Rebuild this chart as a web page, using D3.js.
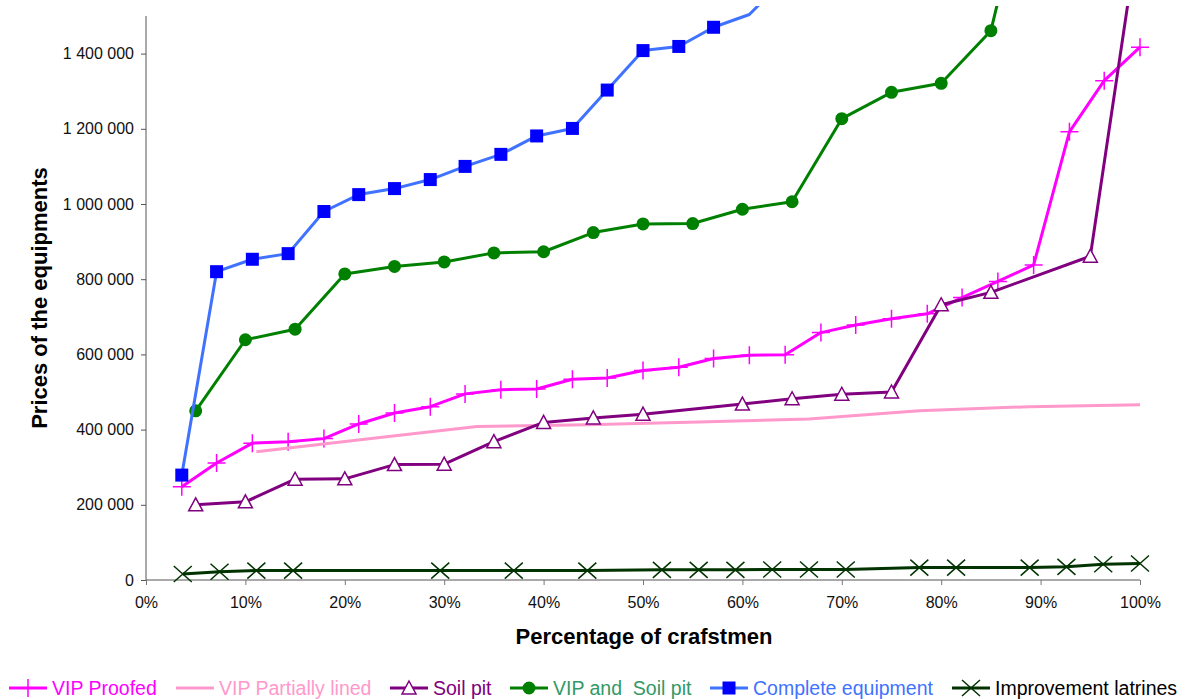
<!DOCTYPE html>
<html>
<head>
<meta charset="utf-8">
<script src="https://cdn.jsdelivr.net/npm/d3@7"></script>
<style>
    body { margin: 0; background: #fff; }
    text { font-family: "Liberation Sans", Arial, sans-serif; }
</style>
</head>
<body>
<div id="canvas"></div>
<script>
"use strict"

let svgWidth = 1187
let svgHeight = 699

let margin = {
    top: 16,
    right: 47,
    bottom: 119,
    left: 146
}

/* Data: x = percentage of crafstmen, y = price */
let proofedX = [3.6, 7.1, 10.7, 14.3, 17.9, 21.4, 25, 28.6, 32.1, 35.7, 39.3, 42.9, 46.4, 50,
    53.6, 57.1, 60.7, 64.3, 67.9, 71.4, 75, 78.6, 82.1, 85.7, 89.3, 92.9, 96.4, 100]
let proofedY = [248000, 311000, 364000, 368000, 376000, 415000, 444000, 461000, 495000, 506000,
    508000, 534000, 537000, 557000, 566000, 589000, 598000, 599000, 658000, 678000, 695000,
    708000, 751000, 794000, 838000, 1192000, 1328000, 1417000]

let linedX = [11.1, 22.2, 33.3, 44.4, 55.6, 66.7, 77.8, 88.9, 100]
let linedY = [341000, 375000, 408000, 413000, 420000, 428000, 450000, 461000, 466000]

let soilX = [5, 10, 15, 20, 25, 30, 35, 40, 45, 50, 60, 65, 70, 75, 80, 85, 95, 100]
let soilY = [200000, 208000, 268000, 269000, 307000, 308000, 368000, 419000, 431000, 441000,
    468000, 482000, 494000, 500000, 732000, 765000, 861000, 1750000]

let vipSoilX = [5, 10, 15, 20, 25, 30, 35, 40, 45, 50, 55, 60, 65, 70, 75, 80, 85, 90]
let vipSoilY = [450000, 639000, 667000, 814000, 834000, 846000, 870000, 873000, 924000, 947000,
    948000, 986000, 1006000, 1227000, 1297000, 1321000, 1461000, 2010000]

let completeX = [3.6, 7.1, 10.7, 14.3, 17.9, 21.4, 25, 28.6, 32.1, 35.7, 39.3, 42.9, 46.4, 50,
    53.6, 57.1, 60.7, 64.3]
let completeY = [279000, 820000, 853000, 868000, 980000, 1025000, 1041000, 1065000, 1100000,
    1132000, 1181000, 1201000, 1303000, 1408000, 1419000, 1470000, 1504000, 1600000]

let latrinesX = [3.7, 7.4, 11.1, 14.8, 29.6, 37.0, 44.4, 51.9, 55.6, 59.3, 63.0, 66.7, 70.4,
    77.8, 81.5, 88.9, 92.6, 96.3, 100]
let latrinesY = [16000, 22000, 25000, 25000, 25000, 25000, 25000, 27000, 27000, 27000, 28000,
    28000, 28000, 33000, 33000, 33000, 35000, 42000, 44000]

let yTicks = [0, 200000, 400000, 600000, 800000, 1000000, 1200000, 1400000]
let xTicks = [0, 10, 20, 30, 40, 50, 60, 70, 80, 90, 100]

let seriesNames = ["VIP Proofed", "VIP Partially lined", "Soil pit", "VIP and  Soil pit",
    "Complete equipment", "Improvement latrines"]

/* series styling: line colour, marker type, legend text colour */
let seriesList = [
    { name: seriesNames[0], xs: proofedX, ys: proofedY, line: "#ff00ff", width: 3, marker: "plus", mColor: "#ff00ff", text: "#ff00ff" },
    { name: seriesNames[1], xs: linedX, ys: linedY, line: "#ff99cc", width: 3, marker: "none", mColor: "#ff99cc", text: "#ff99cc" },
    { name: seriesNames[2], xs: soilX, ys: soilY, line: "#800080", width: 3, marker: "triangle", mColor: "#800080", text: "#800080" },
    { name: seriesNames[3], xs: vipSoilX, ys: vipSoilY, line: "#008000", width: 3, marker: "circle", mColor: "#008000", text: "#339966" },
    { name: seriesNames[4], xs: completeX, ys: completeY, line: "#3f72ff", width: 3, marker: "square", mColor: "#0000ff", text: "#3f72ff" },
    { name: seriesNames[5], xs: latrinesX, ys: latrinesY, line: "#003300", width: 3, marker: "cross", mColor: "#003300", text: "#000000" }
]

let legendX = [9, 176, 390, 510, 710, 952]

let svg = d3.select("#canvas")
    .append("svg")
    .attr("width", svgWidth)
    .attr("height", svgHeight)

let width = svgWidth - margin.left - margin.right
let height = svgHeight - margin.top - margin.bottom

let xScale = d3.scaleLinear().domain([0, 100]).range([0, width])
let yScale = d3.scaleLinear().domain([0, 1500000]).range([height, 0])

let chartGroup = svg.append("g")
    .attr("transform", `translate(${margin.left},${margin.top})`)

// clip lines that run off the top of the chart
svg.append("clipPath")
    .attr("id", "plotClip")
    .append("rect")
    .attr("x", -10)
    .attr("y", -10)
    .attr("width", width + 20)
    .attr("height", height + 20)

let locale = d3.formatLocale({ decimal: ".", thousands: " ", grouping: [3], currency: ["", ""] })
let fmt = locale.format(",")

// Y axis
let yAxis = d3.axisLeft(yScale)
    .tickValues(yTicks)
    .tickFormat(fmt)
    .tickSize(5)
    .tickPadding(7)

let yG = chartGroup.append("g").call(yAxis)
yG.select(".domain").attr("stroke", "#555").attr("d", `M0,0V${height}`)
yG.selectAll(".tick line").attr("stroke", "#555")
yG.selectAll("text")
    .attr("fill", "#111")
    .style("font-size", "16px")
    .style("font-family", "'Liberation Sans', Arial, sans-serif")

// X axis
let xAxis = d3.axisBottom(xScale)
    .tickValues(xTicks)
    .tickFormat(d => d + "%")
    .tickSize(5)
    .tickPadding(12)

let xG = chartGroup.append("g")
    .attr("transform", `translate(0,${height})`)
    .call(xAxis)
xG.select(".domain").attr("stroke", "#555").attr("d", `M0,0H${width}`)
xG.selectAll(".tick line").attr("stroke", "#777")
xG.selectAll("text")
    .attr("fill", "#111")
    .style("font-size", "16px")
    .style("font-family", "'Liberation Sans', Arial, sans-serif")

// Axis titles
chartGroup.append("text")
    .attr("transform", "rotate(-90)")
    .attr("x", -(298 - margin.top))
    .attr("y", 47 - margin.left)
    .style("text-anchor", "middle")
    .style("font-weight", "bold")
    .style("font-size", "22px")
    .text("Prices of the equipments")

chartGroup.append("text")
    .attr("x", 644 - margin.left)
    .attr("y", 644 - margin.top)
    .style("text-anchor", "middle")
    .style("font-weight", "bold")
    .style("font-size", "22px")
    .text("Percentage of crafstmen")

/* marker drawing, returns a path string centred at (cx, cy) */
function markerPath(type, cx, cy) {
    let p = d3.path()
    if (type === "plus") {
        p.moveTo(cx - 9, cy); p.lineTo(cx + 9, cy)
        p.moveTo(cx, cy - 9); p.lineTo(cx, cy + 9)
    } else if (type === "cross") {
        p.moveTo(cx - 9, cy - 8); p.lineTo(cx + 9, cy + 8)
        p.moveTo(cx - 9, cy + 8); p.lineTo(cx + 9, cy - 8)
    } else if (type === "triangle") {
        p.moveTo(cx, cy - 7); p.lineTo(cx + 7, cy + 6); p.lineTo(cx - 7, cy + 6); p.closePath()
    } else if (type === "square") {
        p.rect(cx - 6.5, cy - 6.5, 13, 13)
    } else if (type === "circle") {
        p.arc(cx, cy, 6.5, 0, Math.PI * 2)
    }
    return p.toString()
}

function styleMarker(sel, s) {
    if (s.marker === "plus" || s.marker === "cross") {
        sel.attr("fill", "none").attr("stroke", s.mColor).attr("stroke-width", 1.5)
    } else if (s.marker === "triangle") {
        sel.attr("fill", "#fff").attr("stroke", s.mColor).attr("stroke-width", 1.5)
    } else {
        sel.attr("fill", s.mColor).attr("stroke", "none")
    }
}

let plot = chartGroup.append("g")
    .attr("clip-path", "url(#plotClip)")

let lineGen = d3.line()
    .x(d => xScale(d[0]))
    .y(d => yScale(d[1]))

for (let i = 0; i < seriesList.length; i++) {
    let s = seriesList[i]
    let pts = s.xs.map((x, k) => [x, s.ys[k]])

    plot.append("path")
        .attr("d", lineGen(pts))
        .attr("fill", "none")
        .attr("stroke", s.line)
        .attr("stroke-width", s.width)
        .attr("stroke-linejoin", "round")

    if (s.marker !== "none") {
        // Excel hides markers above the axis maximum
        let shown = pts.filter(d => d[1] <= 1500000)
        plot.selectAll("path.m" + i)
            .data(shown)
            .join("path")
            .attr("class", "m" + i)
            .attr("d", d => markerPath(s.marker, xScale(d[0]), yScale(d[1])))
            .call(styleMarker, s)
    }
}

// Legend
let legendY = 688
for (let i = 0; i < seriesList.length; i++) {
    let s = seriesList[i]
    let x0 = legendX[i]
    svg.append("line")
        .attr("x1", x0).attr("x2", x0 + 38)
        .attr("y1", legendY).attr("y2", legendY)
        .attr("stroke", s.line)
        .attr("stroke-width", s.width)
    if (s.marker !== "none") {
        svg.append("path")
            .attr("d", markerPath(s.marker, x0 + 19, legendY))
            .call(styleMarker, s)
    }
    svg.append("text")
        .attr("x", x0 + 43)
        .attr("y", legendY + 7)
        .attr("fill", s.text)
        .attr("xml:space", "preserve")
        .style("white-space", "pre")
        .style("font-size", "19.5px")
        .text(s.name)
}
</script>
</body>
</html>
